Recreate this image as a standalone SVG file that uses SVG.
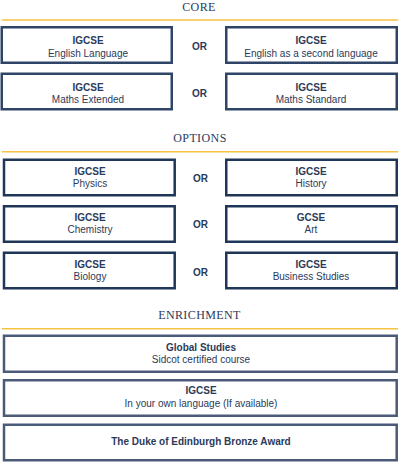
<svg xmlns="http://www.w3.org/2000/svg" width="400" height="471" viewBox="0 0 400 471">
<style>
.bg{fill:#ffffff}
.hd{font-family:"Liberation Serif","Times New Roman",serif;font-size:12px;fill:#2b3a5a;text-anchor:middle;letter-spacing:0.4px}
.rule{stroke:#f5c341;stroke-width:1.6;fill:none}
.box{fill:#ffffff;stroke-width:2.5}
.core{stroke:#2f4568}
.opt{stroke:#1f3658}
.enr{stroke:#4c5a79}
.t{font-family:"Liberation Sans",Arial,sans-serif;font-size:10px;fill:#2b3a5a;text-anchor:middle}
.b{font-weight:bold}
</style>
<rect class="bg" x="0" y="0" width="400" height="471"/>

<g id="headings">
<text class="hd" x="199" y="11">CORE</text>
<line class="rule" x1="2" y1="20" x2="398" y2="20"/>
<text class="hd" x="200" y="142">OPTIONS</text>
<line class="rule" x1="2" y1="151.7" x2="398" y2="151.7"/>
<text class="hd" x="199.5" y="319">ENRICHMENT</text>
<line class="rule" x1="2" y1="328.8" x2="398" y2="328.8"/>
</g>

<g id="connectors">
<text class="t b" x="199.5" y="50">OR</text>
<text class="t b" x="199.5" y="97.3">OR</text>
<text class="t b" x="200.5" y="182.3">OR</text>
<text class="t b" x="200.5" y="228.3">OR</text>
<text class="t b" x="200.5" y="276">OR</text>
</g>

<g id="core-english">
<rect class="box core" x="1.75" y="27.25" width="170" height="35.5"/>
<text class="t b" x="88" y="44.3">IGCSE</text>
<text class="t" x="88" y="56.5">English Language</text>
</g>
<g id="core-english-second">
<rect class="box core" x="226.25" y="27.25" width="170.5" height="35.5"/>
<text class="t b" x="311" y="44.3">IGCSE</text>
<text class="t" x="311" y="56.5">English as a second language</text>
</g>
<g id="core-maths-ext">
<rect class="box core" x="1.75" y="73.75" width="170" height="35.5"/>
<text class="t b" x="88" y="91">IGCSE</text>
<text class="t" x="88" y="103.3">Maths Extended</text>
</g>
<g id="core-maths-std">
<rect class="box core" x="226.25" y="73.75" width="170.5" height="35.5"/>
<text class="t b" x="311" y="91">IGCSE</text>
<text class="t" x="311" y="103.3">Maths Standard</text>
</g>

<g id="opt-physics">
<rect class="box opt" x="4" y="159.75" width="170.7" height="35.5"/>
<text class="t b" x="90" y="175">IGCSE</text>
<text class="t" x="90" y="187">Physics</text>
</g>
<g id="opt-history">
<rect class="box opt" x="226.25" y="159.75" width="170.5" height="35.5"/>
<text class="t b" x="311" y="175">IGCSE</text>
<text class="t" x="311" y="187">History</text>
</g>
<g id="opt-chemistry">
<rect class="box opt" x="4" y="206.25" width="170.7" height="35.5"/>
<text class="t b" x="90" y="220.7">IGCSE</text>
<text class="t" x="90" y="232.5">Chemistry</text>
</g>
<g id="opt-art">
<rect class="box opt" x="226.25" y="206.25" width="170.5" height="35.5"/>
<text class="t b" x="311" y="220.7">GCSE</text>
<text class="t" x="311" y="232.5">Art</text>
</g>
<g id="opt-biology">
<rect class="box opt" x="4" y="252.75" width="170.7" height="35.5"/>
<text class="t b" x="90" y="267.7">IGCSE</text>
<text class="t" x="90" y="280">Biology</text>
</g>
<g id="opt-business">
<rect class="box opt" x="226.25" y="252.75" width="170.5" height="35.5"/>
<text class="t b" x="311" y="267.7">IGCSE</text>
<text class="t" x="311" y="280">Business Studies</text>
</g>

<g id="enr-global">
<rect class="box enr" x="4" y="335.75" width="392.7" height="36"/>
<text class="t b" x="201" y="351">Global Studies</text>
<text class="t" x="201" y="363">Sidcot certified course</text>
</g>
<g id="enr-language">
<rect class="box enr" x="4" y="380.25" width="392.7" height="35.5"/>
<text class="t b" x="201" y="394.3">IGCSE</text>
<text class="t" x="201" y="407">In your own language (If available)</text>
</g>
<g id="enr-dofe">
<rect class="box enr" x="4" y="424.75" width="392.7" height="35.5"/>
<text class="t b" x="201" y="445">The Duke of Edinburgh Bronze Award</text>
</g>
</svg>
